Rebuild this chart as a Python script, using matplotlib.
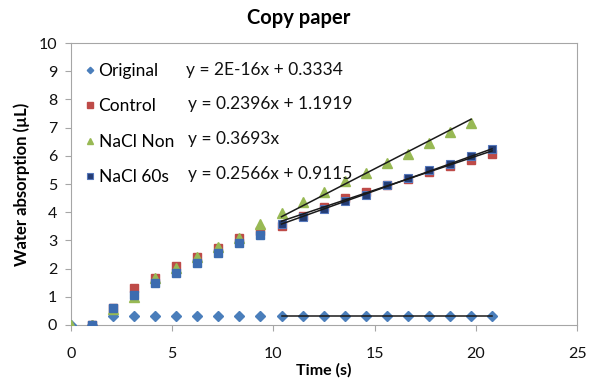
import numpy as np
import matplotlib
matplotlib.use('Agg')
import matplotlib.pyplot as plt

plt.rcParams['font.family'] = ['Lato', 'DejaVu Sans']

# time points (s)
t_early = [0, 1.04, 2.08, 3.12, 4.16, 5.2, 6.24, 7.28, 8.32, 9.36]
t_late = [10.4, 11.44, 12.48, 13.52, 14.56, 15.6, 16.64, 17.68, 18.72, 19.76, 20.8]

nan = np.nan
original_early = [0, 0, 0.333, 0.333, 0.333, 0.333, 0.333, 0.333, 0.333, 0.333]
original_late = [0.333, 0.333, 0.333, 0.333, 0.333, 0.333, 0.333, 0.333, 0.333, 0.333, 0.333]
control_early = [nan, 0, 0.6, 1.3, 1.68, 2.08, 2.42, 2.73, 3.1, 3.35]
control_late = [3.52, 3.85, 4.18, 4.5, 4.7, 4.95, 5.18, 5.44, 5.63, 5.86, 6.05]
non_early = [0, 0, 0.55, 1.0, 1.66, 2.02, 2.4, 2.76, 3.1, 3.57]
non_late = [3.96, 4.38, 4.73, 5.09, 5.38, 5.74, 6.06, 6.45, 6.84, 7.18, nan]
s60_early = [nan, 0, 0.62, 1.06, 1.48, 1.85, 2.2, 2.57, 2.92, 3.2]
s60_late = [3.57, 3.84, 4.12, 4.4, 4.62, 4.97, 5.21, 5.5, 5.71, 6.0, 6.24]

# trendline coefficients (slope, intercept)
labels = ['Original', 'Control', 'NaCl Non', 'NaCl 60s']
fits = [(2e-16, 0.3334), (0.2396, 1.1919), (0.3693, 0.0), (0.2566, 0.9115)]
equations = ['y = 2E-16x + 0.3334', 'y = 0.2396x + 1.1919', 'y = 0.3693x', 'y = 0.2566x + 0.9115']

fig = plt.figure(figsize=(5.98, 3.81), dpi=100)
ax = fig.add_axes([0.1187, 0.147, 0.8463, 0.74])

blue = '#4a7ebb'
red = '#be4b48'
green = '#98b954'
navy = '#243c74'

early = [original_early, control_early, non_early, s60_early]
late = [original_late, control_late, non_late, s60_late]
styles = [dict(marker='D', ms=5, color=blue),
          dict(marker='s', ms=6, color=red),
          dict(marker='^', ms=7, color=green),
          dict(marker='s', ms=6, color='#3c6cb0')]
late_styles = styles[:3] + [dict(marker='s', ms=6, color=navy, mec='#5577bb', mew=0.8)]

handles = []
for i in range(4):
    ax.plot(t_early, early[i], ls='none', zorder=3, **styles[i])
    h, = ax.plot(t_late, late[i], ls='none', zorder=3, **late_styles[i])
    handles.append(h)
    y = np.array(late[i])
    x = np.array(t_late)[~np.isnan(y)]
    xs = np.array([x.min(), x.max()])
    m, b = fits[i]
    ax.plot(xs, m * xs + b, color='#1a1a1a', lw=1.1, zorder=4)

ax.set_xlim(0, 25)
ax.set_ylim(0, 10)
ax.set_xticks([0, 5, 10, 15, 20, 25])
ax.set_yticks(range(0, 11))
for s in ax.spines.values():
    s.set_color('#a6a6a6')
ax.tick_params(direction='out', length=4, color='#a6a6a6', labelsize=11.5, labelcolor='#111111')
ax.tick_params(axis='x', pad=12)
ax.tick_params(axis='y', pad=6)

leg = ax.legend(handles, labels, loc='upper left', bbox_to_anchor=(-0.002, 0.985), frameon=False,
                fontsize=12.5, handlelength=0.5, handletextpad=0.25, labelspacing=1.12,
                markerscale=0.65)

eq_y = [0.904, 0.784, 0.66, 0.535]
eq_x = [0.227, 0.231, 0.231, 0.231]
for i in range(4):
    ax.text(eq_x[i], eq_y[i], equations[i], transform=ax.transAxes, fontsize=12.5,
            va='center', ha='left', color='#111111')

fig.suptitle('Copy paper', fontsize=14.5, fontweight='bold', x=0.5, y=0.98)
ax.set_xlabel('Time (s)', fontsize=11.5, fontweight='bold', labelpad=1)
ax.set_ylabel('Water absorption (µL)', fontsize=12, fontweight='bold', labelpad=6)

fig.savefig('out.png', dpi=100)
